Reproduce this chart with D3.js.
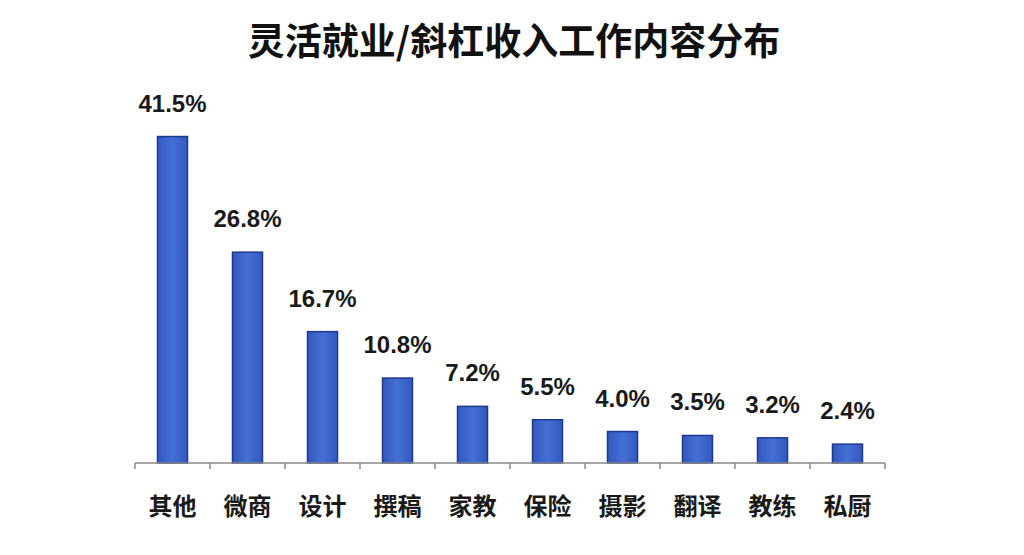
<!DOCTYPE html>
<html>
<head>
<meta charset="utf-8">
<script src="https://cdn.jsdelivr.net/npm/d3@7"></script>
<style>
  html, body { margin: 0; padding: 0; background: #fff; }
</style>
</head>
<body>
<div id="chart"></div>
<script>
const w = 1024;
const h = 555;

const title = "灵活就业/斜杠收入工作内容分布";
const categories = ["其他", "微商", "设计", "撰稿", "家教", "保险", "摄影", "翻译", "教练", "私厨"];
const values = [41.5, 26.8, 16.7, 10.8, 7.2, 5.5, 4.0, 3.5, 3.2, 2.4];
const valueLabels = ["41.5%", "26.8%", "16.7%", "10.8%", "7.2%", "5.5%", "4.0%", "3.5%", "3.2%", "2.4%"];

const svg = d3.select("#chart")
    .append("svg")
    .attr("width", w)
    .attr("height", h);

const x = d3.scaleBand()
    .domain(categories)
    .range([135, 885])
    .paddingInner(0.6)
    .paddingOuter(0.3);

const y = d3.scaleLinear()
    .domain([0, 45])
    .range([463, 109]);

// title
svg.append("text")
    .attr("x", 514)
    .attr("y", 55)
    .attr("text-anchor", "middle")
    .attr("font-family", "'Noto Sans CJK SC', sans-serif")
    .attr("font-weight", "bold")
    .attr("font-size", "37px")
    .attr("fill", "#111")
    .text(title);

// bars
const grad = svg.append("defs").append("linearGradient")
    .attr("id", "barGrad")
    .attr("x1", "0").attr("x2", "1").attr("y1", "0").attr("y2", "0");
grad.append("stop").attr("offset", "0%").attr("stop-color", "#3358be");
grad.append("stop").attr("offset", "50%").attr("stop-color", "#4470d6");
grad.append("stop").attr("offset", "100%").attr("stop-color", "#3358be");

svg.selectAll("rect.bar")
    .data(values)
    .enter()
    .append("rect")
    .attr("class", "bar")
    .attr("x", (d, i) => x(categories[i]))
    .attr("y", d => y(d))
    .attr("width", x.bandwidth())
    .attr("height", d => y(0) - y(d))
    .attr("fill", "url(#barGrad)")
    .attr("stroke", "#1e3a8c")
    .attr("stroke-width", 1.5);

// value labels
svg.selectAll("text.val")
    .data(values)
    .enter()
    .append("text")
    .attr("class", "val")
    .attr("x", (d, i) => x(categories[i]) + x.bandwidth() / 2)
    .attr("y", d => y(d) - 25)
    .attr("text-anchor", "middle")
    .attr("font-family", "'Liberation Sans', Arial, sans-serif")
    .attr("font-weight", "bold")
    .attr("font-size", "24px")
    .attr("fill", "#1a1a1a")
    .text((d, i) => valueLabels[i]);

// x axis: line with ticks at category boundaries
const axis = svg.append("g").attr("transform", "translate(0," + y(0) + ")");
axis.append("line")
    .attr("x1", 135).attr("x2", 885)
    .attr("y1", 0).attr("y2", 0)
    .attr("stroke", "#888")
    .attr("stroke-width", 1.5);

const boundaries = d3.range(categories.length + 1).map(i => 135 + i * (750 / categories.length));
axis.selectAll("line.tick")
    .data(boundaries)
    .enter()
    .append("line")
    .attr("class", "tick")
    .attr("x1", d => d).attr("x2", d => d)
    .attr("y1", 0).attr("y2", 6)
    .attr("stroke", "#888")
    .attr("stroke-width", 1.5);

// category labels
axis.selectAll("text.cat")
    .data(categories)
    .enter()
    .append("text")
    .attr("class", "cat")
    .attr("x", d => x(d) + x.bandwidth() / 2)
    .attr("y", 52)
    .attr("text-anchor", "middle")
    .attr("font-family", "'Noto Sans CJK SC', sans-serif")
    .attr("font-weight", "bold")
    .attr("font-size", "24px")
    .attr("fill", "#1a1a1a")
    .text(d => d);
</script>
</body>
</html>
